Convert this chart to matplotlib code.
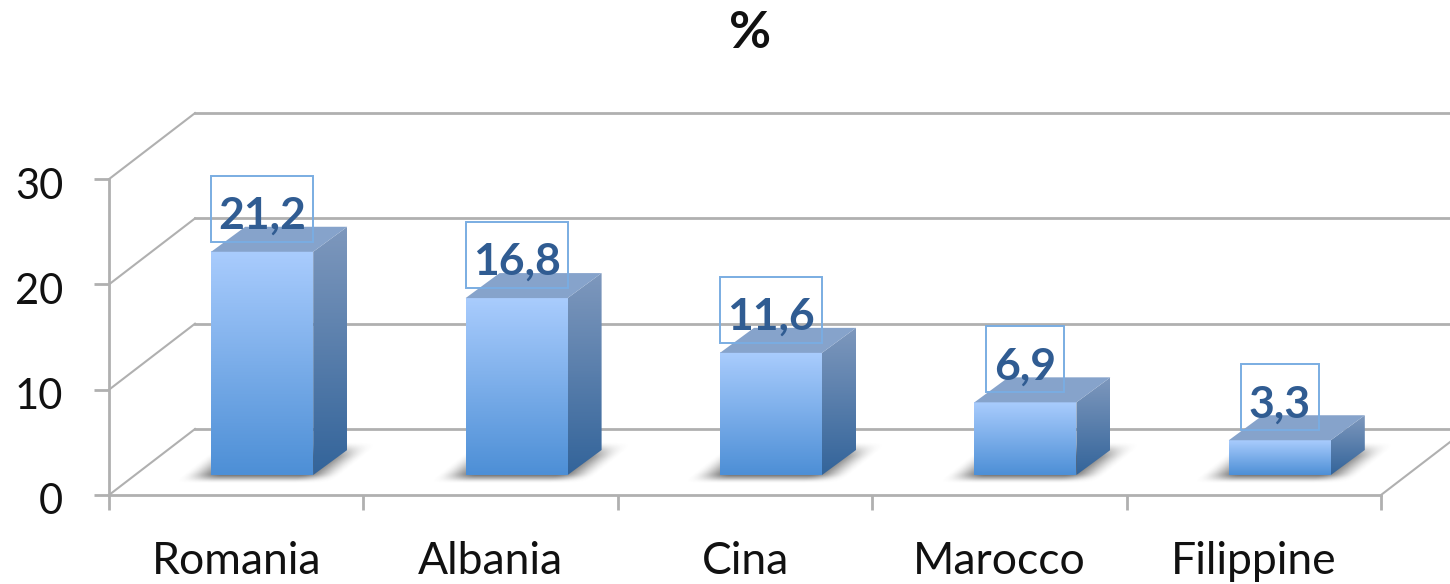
import numpy as np
import matplotlib
matplotlib.use("Agg")
import matplotlib.pyplot as plt
from matplotlib.colors import LinearSegmentedColormap
from matplotlib.patches import Polygon, Rectangle
from matplotlib.transforms import ScaledTranslation

plt.rcParams['font.family'] = ['Lato', 'DejaVu Sans']

categories = ["Romania", "Albania", "Cina", "Marocco", "Filippine"]
values = [21.2, 16.8, 11.6, 6.9, 3.3]
value_labels = ["21,2", "16,8", "11,6", "6,9", "3,3"]
y_ticks = [0, 10, 20, 30]

# pixel scale of the front plane
W, H = 1450, 584
X0, Y0 = 109, 495
PX_CAT = 254.4
PX_VAL = 10.53

GRID = "#b0b0b0"
LW = 2.0

# depth of the box and of the bars, in data units
wall_dx, wall_dy = 86 / PX_CAT, 66 / PX_VAL
bar_dx, bar_dy = 34 / PX_CAT, 25 / PX_VAL
bar_w = 102 / PX_CAT
bar_shift = 26 / PX_CAT
bar_base = 20 / PX_VAL

front_cmap = LinearSegmentedColormap.from_list("front", ["#a9ccfd", "#4d8fd6"])
side_cmap = LinearSegmentedColormap.from_list("side", ["#7e98bd", "#33649a"])


def smooth(t):
    t = np.clip(t, 0, 1)
    return t * t * (3 - 2 * t)


def draw_shadow(ax, x, w):
    # soft parallelogram lying on the floor behind the bar
    bot, top = bar_base - 9 / PX_VAL, bar_base + 33 / PX_VAL
    left = x - 40 / PX_CAT
    right = x + w + 18 / PX_CAT
    shear = 52 / PX_CAT
    x_ext = (left - 0.05, right + shear + 0.05)
    xs = np.linspace(*x_ext, 260)
    ys = np.linspace(top + 0.5, bot - 0.5, 70)
    xx, yy = np.meshgrid(xs, ys)
    frac = (yy - bot) / (top - bot)
    uu = xx - shear * frac
    soft = 42 / PX_CAT
    a = smooth((uu - left) / soft) * smooth((right - uu) / soft)
    a = a * smooth(frac / 0.25) * smooth((1 - frac) / 0.4)
    rgba = np.zeros(xx.shape + (4,))
    rgba[..., :3] = 0.3
    rgba[..., 3] = a * 0.85
    ax.imshow(rgba, extent=(x_ext[0], x_ext[1], bot - 0.5, top + 0.5),
              aspect="auto", zorder=3, interpolation="bilinear")


def draw_bar(ax, x, val):
    w = bar_w
    y0, y1 = bar_base, bar_base + val
    grad = np.linspace(0, 1, 128).reshape(-1, 1)

    # front face
    ax.imshow(grad, extent=(x, x + w, y0, y1), cmap=front_cmap, aspect="auto", zorder=4)

    # side face, clipped to its parallelogram
    side = Polygon([(x + w, y0), (x + w + bar_dx, y0 + bar_dy),
                    (x + w + bar_dx, y1 + bar_dy), (x + w, y1)],
                   closed=True, fc="none", ec="none", zorder=4)
    ax.add_patch(side)
    im = ax.imshow(grad, extent=(x + w, x + w + bar_dx, y0, y1 + bar_dy),
                   cmap=side_cmap, aspect="auto", zorder=4)
    im.set_clip_path(side)

    # top face
    ax.add_patch(Polygon([(x, y1), (x + w, y1), (x + w + bar_dx, y1 + bar_dy),
                          (x + bar_dx, y1 + bar_dy)],
                         closed=True, fc="#86a3cb", ec="none", zorder=4))


fig = plt.figure(figsize=(W / 100, H / 100), dpi=100)
ax = fig.add_axes([0, 0, 1, 1])
ax.patch.set_visible(False)

# back wall and side wall lines
for t in y_ticks:
    ax.plot([0, wall_dx], [t, t + wall_dy], color=GRID, lw=LW * 0.75, zorder=1)
    ax.plot([wall_dx, len(categories) + wall_dx], [t + wall_dy, t + wall_dy],
            color=GRID, lw=LW, zorder=1)
n = len(categories)
ax.plot([n, n + wall_dx], [0, wall_dy], color=GRID, lw=LW * 0.75, zorder=1)

for i, (val, lab) in enumerate(zip(values, value_labels)):
    x = i + 0.5 + bar_shift - bar_w / 2
    draw_shadow(ax, x, bar_w)
    draw_bar(ax, x, val)

    # value label with its outlined box
    cx = x + bar_w / 2
    box_w = bar_w if len(lab) > 3 else 78 / PX_CAT
    box_y = bar_base + val + 10 / PX_VAL
    box_h = 66 / PX_VAL
    ax.add_patch(Rectangle((cx - box_w / 2, box_y), box_w, box_h, fc="none",
                           ec="#7aade2", lw=1.4, zorder=5))
    ax.text(cx, box_y + box_h / 2 - 7 / PX_VAL, lab, ha="center", va="center",
            fontsize=32, fontweight="bold", color="#305c92", zorder=6)

# axes lines and tick labels
for name in ("top", "right"):
    ax.spines[name].set_visible(False)
for name in ("left", "bottom"):
    ax.spines[name].set_position(("data", 0))
    ax.spines[name].set_color(GRID)
    ax.spines[name].set_linewidth(LW)
    ax.spines[name].set_zorder(2)
ax.spines["left"].set_bounds(0, 30)
ax.spines["bottom"].set_bounds(0, n)

ax.set_yticks(y_ticks)
ax.set_yticklabels([str(t) for t in y_ticks])
ax.set_xticks(np.arange(n + 1))
ax.set_xticklabels([])
ax.set_xticks(np.arange(n) + 0.5, minor=True)
ax.set_xticklabels(categories, minor=True)
ax.tick_params(axis="y", which="major", length=11, width=LW, color=GRID,
               labelsize=30, pad=22, labelcolor="#111111")
ax.tick_params(axis="x", which="major", length=11, width=LW, color=GRID)
ax.tick_params(axis="x", which="minor", length=0, labelsize=32, pad=33, labelcolor="#111111")

# digits sit a little under their ticks in the original
shift = ScaledTranslation(0, -4 / 100, fig.dpi_scale_trans)
for lbl in ax.get_yticklabels():
    lbl.set_transform(lbl.get_transform() + shift)

ax.set_xlim(-X0 / PX_CAT, (W - X0) / PX_CAT)
ax.set_ylim(-(H - Y0) / PX_VAL, Y0 / PX_VAL)

fig.text(750 / W, 1 - 33 / H, "%", ha="center", va="center",
         fontsize=37, fontweight="bold", color="#111111")

fig.savefig("out.png", dpi=100)
